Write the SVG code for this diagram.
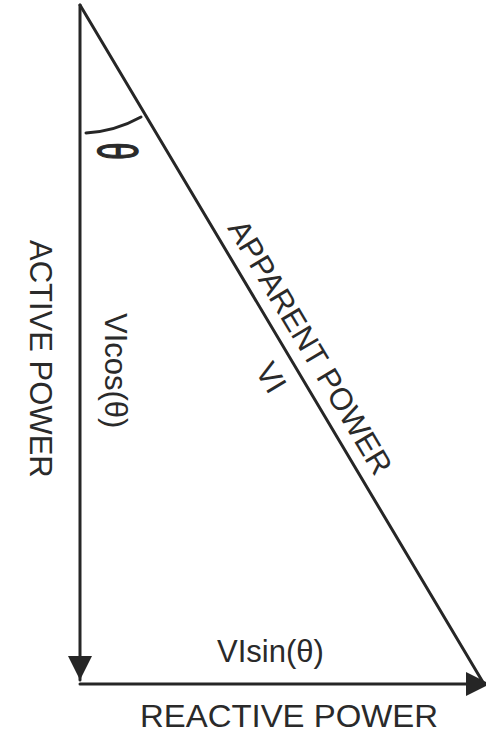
<svg xmlns="http://www.w3.org/2000/svg" width="486" height="733" viewBox="0 0 486 733">
<style>
.ln{stroke:#262626;stroke-width:3;fill:none;stroke-linecap:round}
.t{font-family:"Liberation Sans",Arial,sans-serif;fill:#2a2a2a;font-size:31px}
</style>
<defs>
<marker id="ah" viewBox="0 0 10 10" refX="10" refY="5" markerWidth="8" markerHeight="8" markerUnits="strokeWidth" orient="auto">
<path d="M0,0 L10,5 L0,10 z" fill="#262626"/>
</marker>
</defs>
<rect width="486" height="733" fill="#ffffff"/>
<g id="connectors">
<line class="ln" x1="80" y1="5" x2="80" y2="680" marker-end="url(#ah)"/>
<line class="ln" x1="80" y1="684" x2="490" y2="684" marker-end="url(#ah)"/>
<line class="ln" x1="80" y1="5" x2="484" y2="684"/>
<path class="ln" d="M86 133 A128 128 0 0 0 141 117"/>
</g>
<g id="theta">
<text class="t" text-anchor="middle" font-size="50" stroke="#2a2a2a" stroke-width="0.8" transform="translate(130,151) rotate(90) scale(1,1.8)" y="18">θ</text>
</g>
<g id="active-power">
<text class="t" transform="translate(30,240) rotate(90)">ACTIVE POWER</text>
</g>
<g id="vicos">
<text class="t" font-size="32" transform="translate(105,313) rotate(90)">VIcos(θ)</text>
</g>
<g id="apparent-power">
<text class="t" font-size="32" transform="translate(227,228) rotate(59.25)">APPARENT POWER</text>
</g>
<g id="vi">
<text class="t" text-anchor="middle" font-size="33" transform="translate(262,383) rotate(59.25)">VI</text>
</g>
<g id="visin">
<text class="t" x="217" y="662">VIsin(θ)</text>
</g>
<g id="reactive-power">
<text class="t" font-size="29" x="140" y="727" textLength="298" lengthAdjust="spacingAndGlyphs">REACTIVE POWER</text>
</g>
</svg>
